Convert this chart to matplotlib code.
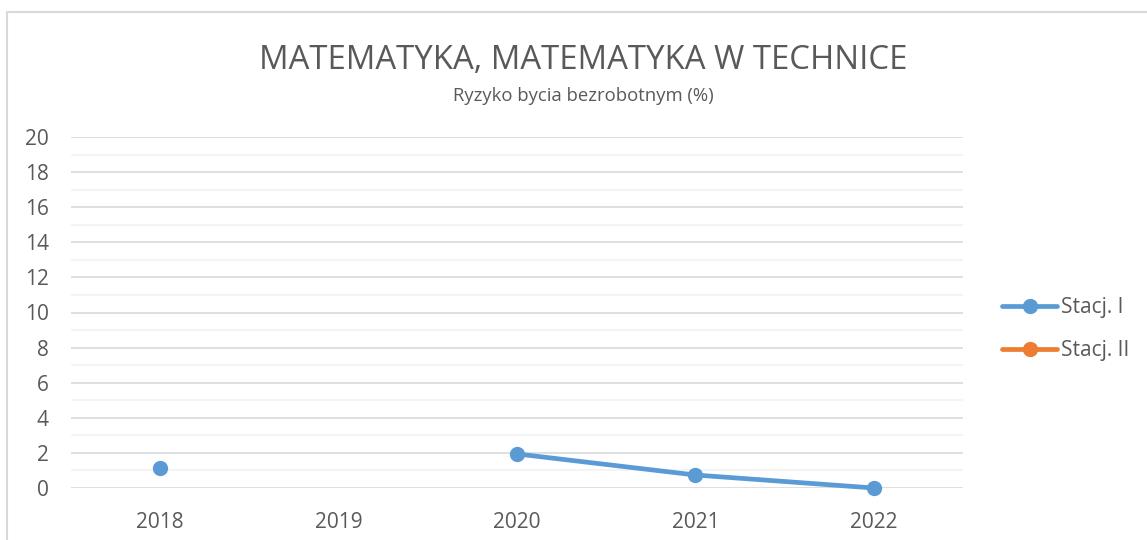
import numpy as np
import matplotlib.pyplot as plt
from matplotlib.patches import Rectangle

years = ["2018", "2019", "2020", "2021", "2022"]
stacj_1 = [1.14, np.nan, 1.94, 0.74, 0.0]
stacj_2 = [np.nan, np.nan, np.nan, np.nan, np.nan]

title = "MATEMATYKA, MATEMATYKA W TECHNICE"
subtitle = "Ryzyko bycia bezrobotnym (%)"
text_color = "#595959"

plt.rcParams['font.family'] = ['Open Sans', 'DejaVu Sans']

fig = plt.figure(figsize=(11.47, 5.4), dpi=100)
# chart frame (only left and top edges fall inside the picture)
fig.patches.append(Rectangle((7 / 1147, -0.1), 1.2, 1.1 - 12 / 540, transform=fig.transFigure,
                             fill=False, edgecolor="#D9D9D9", linewidth=1.5))

ax = fig.add_axes([71 / 1147, 1 - 488 / 540, (963 - 71) / 1147, (488 - 137) / 540])
x = np.arange(len(years))

ax.plot(x, stacj_1, color="#5B9BD5", linewidth=3.4, marker="o", markersize=10,
        label="Stacj. I", solid_capstyle="round", clip_on=False, zorder=3)
ax.plot(x, stacj_2, color="#ED7D31", linewidth=3.4, marker="o", markersize=10,
        label="Stacj. II", solid_capstyle="round", clip_on=False, zorder=3)

ax.set_xlim(-0.5, len(years) - 0.5)
ax.set_ylim(0, 20)
ax.set_yticks(range(0, 21, 2))
ax.set_yticks(range(1, 20, 2), minor=True)
ax.set_xticks(x)
ax.set_xticklabels(years)
ax.grid(axis="y", which="major", color="#D9D9D9", linewidth=1.2)
ax.grid(axis="y", which="minor", color="#F2F2F2", linewidth=1.2)
ax.set_axisbelow(True)
for s in ax.spines.values():
    s.set_visible(False)
ax.tick_params(axis="both", which="both", length=0, labelsize=15, colors=text_color)
ax.tick_params(axis="x", pad=17)
ax.tick_params(axis="y", pad=16)

fig.text(583 / 1147, 1 - 69 / 540, title, ha="center", va="baseline", fontsize=23.7, color=text_color)
fig.text(583 / 1147, 1 - 101 / 540, subtitle, ha="center", va="baseline", fontsize=13.3, color=text_color)

fig.legend(loc="center left", bbox_to_anchor=(1002 / 1147, 1 - 329 / 540), frameon=False, fontsize=15,
           labelcolor=text_color, handlelength=2.64, handletextpad=0.2, labelspacing=1.05,
           borderpad=0, borderaxespad=0)

fig.savefig("out.png", dpi=100)
